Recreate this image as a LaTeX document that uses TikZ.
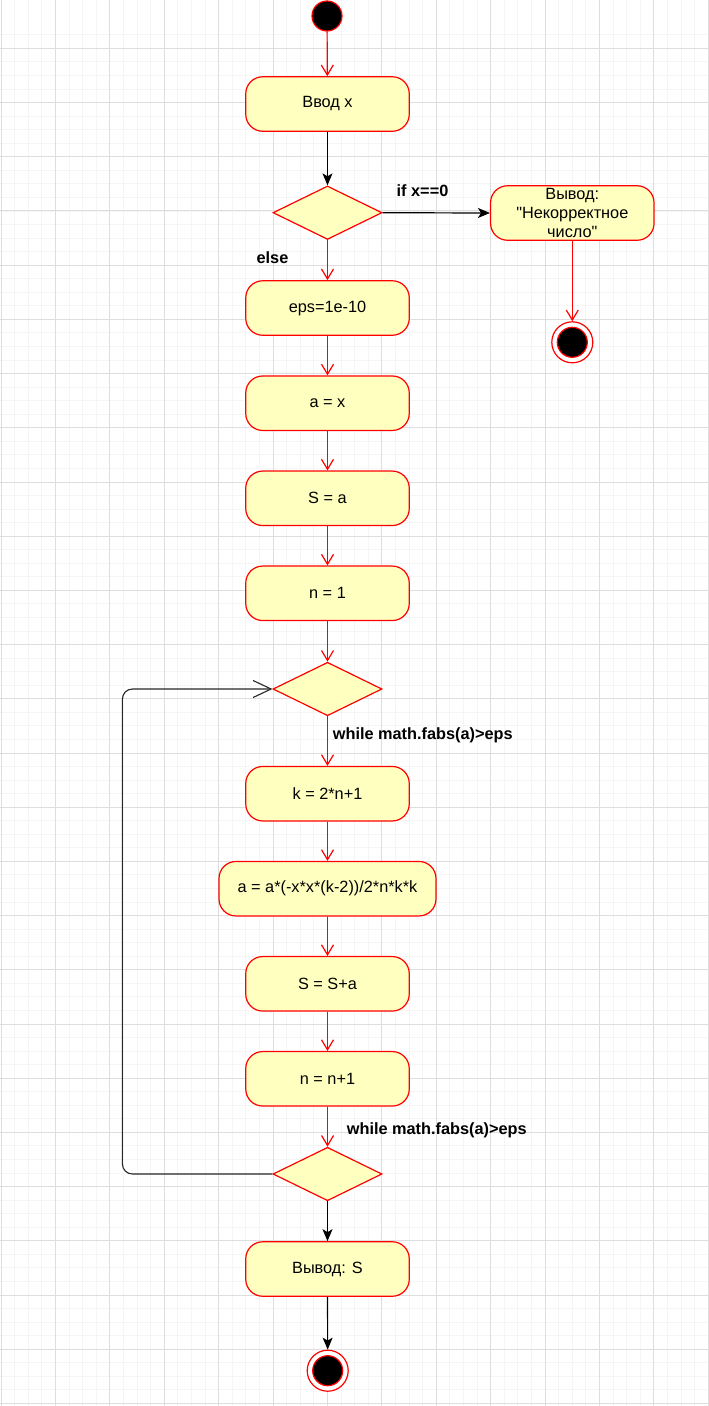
\documentclass[tikz,border=0pt]{standalone}
\usepackage{fontspec}
\setmainfont{Liberation Sans}[Ligatures=TeXOff]
\usepackage{tikz}
\usetikzlibrary{shapes.geometric}
\usetikzlibrary{arrows.meta}

\definecolor{umlfill}{HTML}{FFFFC0}
\definecolor{umlred}{HTML}{FF0000}
\definecolor{gridmajor}{HTML}{DEDEDE}
\definecolor{gridminor}{HTML}{F5F5F5}

\tikzset{
    action/.style={rectangle, rounded corners=17pt, draw=umlred, fill=umlfill, line width=1.2pt,
        minimum width=163.5pt, minimum height=54.5pt, inner sep=2pt, align=center,
        font=\fontsize{16.3}{19}\selectfont},
    decision/.style={diamond, draw=umlred, fill=umlfill, line width=1.2pt,
        minimum width=109pt, minimum height=53.5pt, inner sep=0pt},
    startstate/.style={circle, draw=umlred, fill=black, line width=1.2pt, minimum size=30pt, inner sep=0pt},
    endstate/.style={circle, draw=umlred, fill=white, line width=1.2pt, minimum size=41pt, inner sep=0pt,
        path picture={\draw[umlred, fill=black, line width=1.2pt] (path picture bounding box.center) circle (15pt);}},
    redflow/.style={draw=umlred, line width=1.2pt, -{Straight Barb[length=10pt, width=12pt, line width=1.2pt]}},
    blackflow/.style={draw=black, line width=1.2pt, -{Stealth[length=12pt, width=10pt, inset=3pt]}},
    loopflow/.style={draw=black!85, line width=1.1pt, rounded corners=10pt,
        -{Straight Barb[length=18pt, width=17pt, line width=1.1pt]}},
    guard/.style={font=\fontsize{16.3}{19}\selectfont\bfseries, inner sep=0pt}
}

\begin{document}
\begin{tikzpicture}[x=1pt, y=-1pt]
    \useasboundingbox (0,0) rectangle (709,1406);
    % Background grid:
    \foreach \gx in {0,...,52} \draw[gridminor, line width=0.8pt] (1+13.6*\gx,0) -- (1+13.6*\gx,1406);
    \foreach \gy in {-1,...,104} \draw[gridminor, line width=0.8pt] (0,48.3+13.55*\gy) -- (709,48.3+13.55*\gy);
    \foreach \gx in {0,...,13} \draw[gridmajor, line width=0.9pt] (1+54.4*\gx,0) -- (1+54.4*\gx,1406);
    \foreach \gy in {0,...,25} \draw[gridmajor, line width=0.9pt] (0,48.3+54.21*\gy) -- (709,48.3+54.21*\gy);

    % Nodes:
    \node[startstate](S0) at (327, 16){};
    \node[action](IN) at (327.5, 104){Ввод x};
    \node[decision](D1) at (327.5, 212.7){};
    \node[action](ERR) at (572.3, 213){Вывод:\\"Некорректное\\число"};
    \node[endstate](E1) at (572.3, 342.3){};
    \node[action](EPS) at (327.5, 308){eps=1e-10};
    \node[action](AX) at (327.5, 403.2){a = x};
    \node[action](SA) at (327.5, 498.3){S = a};
    \node[action](N1) at (327.5, 593.3){n = 1};
    \node[decision](D2) at (327.5, 689){};
    \node[action](K) at (327.5, 793.7){k = 2*n+1};
    \node[action, minimum width=217pt](A) at (327.5, 888.7){a = a*(-x*x*(k-2))/2*n*k*k};
    \node[action](SS) at (327.5, 983.8){S = S+a};
    \node[action](NN) at (327.5, 1078.8){n = n+1};
    \node[decision](D3) at (327.5, 1174){};
    \node[action](OUT) at (327.5, 1269){Вывод: S};
    \node[endstate](E2) at (327.7, 1370.7){};

    % Guard labels:
    \node[guard, anchor=west](G1) at (396.5, 190.7){if x==0};
    \node[guard](G2) at (272.5, 258){else};
    \node[guard, anchor=west](G3) at (332.7, 735){while math.fabs(a)>eps};
    \node[guard, anchor=west](G4) at (346.7, 1130.7){while math.fabs(a)>eps};

    % Flows:
    \draw[redflow] (S0) -- (IN);
    \draw[blackflow] (IN) -- (D1);
    \draw[blackflow] (D1.east) -- (ERR.west);
    \draw[redflow] (ERR) -- (E1);
    \draw[redflow] (D1.south) -- (EPS);
    \draw[redflow] (EPS) -- (AX);
    \draw[redflow] (AX) -- (SA);
    \draw[redflow] (SA) -- (N1);
    \draw[redflow] (N1) -- (D2.north);
    \draw[redflow] (D2.south) -- (K);
    \draw[redflow] (K) -- (A);
    \draw[redflow] (A) -- (SS);
    \draw[redflow] (SS) -- (NN);
    \draw[redflow] (NN) -- (D3.north);
    \draw[loopflow] (D3.west) -| ([xshift=-150pt]D2.west) -- (D2.west);
    \draw[blackflow] (D3.south) -- (OUT);
    \draw[blackflow] (OUT) -- (E2);
\end{tikzpicture}
\end{document}
